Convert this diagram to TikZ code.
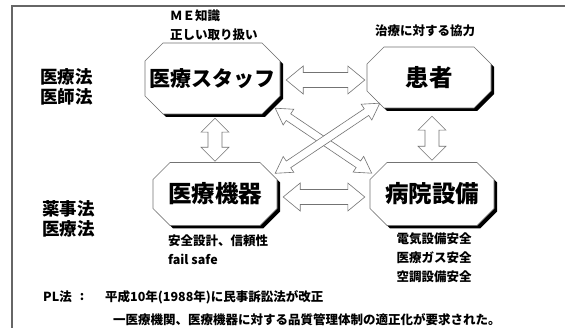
\documentclass[tikz,border=0pt]{standalone}
\usepackage{fontspec}
\setmainfont{Noto Sans CJK JP}
\usetikzlibrary{calc}

\newcommand\octbox[7]{%
 \begin{scope}[shift={(#2,#3)}]
  \fill[octshadow, shift={(3,3)}] ({-#4/2+#6},{-#5/2}) -- ({#4/2-#6},{-#5/2}) -- ({#4/2},{-#5/2+#6}) -- ({#4/2},{#5/2-#6}) -- ({#4/2-#6},{#5/2}) -- ({-#4/2+#6},{#5/2}) -- ({-#4/2},{#5/2-#6}) -- ({-#4/2},{-#5/2+#6}) -- cycle;
  \filldraw[octline] ({-#4/2+#6},{-#5/2}) -- ({#4/2-#6},{-#5/2}) -- ({#4/2},{-#5/2+#6}) -- ({#4/2},{#5/2-#6}) -- ({#4/2-#6},{#5/2}) -- ({-#4/2+#6},{#5/2}) -- ({-#4/2},{#5/2-#6}) -- ({-#4/2},{-#5/2+#6}) -- cycle;
 \end{scope}
 \node[boxlabel, minimum width=#4pt, minimum height=#5pt] (#1) at (#2,#3) {#7};
}

% from, to, shaft half width, head half width, head length
\newcommand\dblarrow[5]{%
 \draw[blockarrow] let \p1=(#1), \p2=(#2), \n1={atan2(\y2-\y1,\x2-\x1)}, \n2={veclen(\x2-\x1,\y2-\y1)} in
  [shift={(\p1)}, rotate=\n1] (0,0) -- (#5,#4) -- (#5,#3) -- ({\n2-#5},#3) -- ({\n2-#5},#4) -- (\n2,0) -- ({\n2-#5},-#4) -- ({\n2-#5},-#3) -- (#5,-#3) -- (#5,-#4) -- cycle;
}

\begin{document}
\begin{tikzpicture}[x=1pt,y=-1pt,
  octline/.style={draw=black!55, line width=0.6pt, fill=white},
  octshadow/.style={fill=black},
  boxlabel/.style={inner sep=0pt, font=\bfseries\fontsize{23.5}{26}\selectfont},
  lawlabel/.style={inner sep=0pt, align=left, font=\bfseries\fontsize{17.5}{20}\selectfont},
  note/.style={inner sep=0pt, font=\bfseries\fontsize{12.5}{19}\selectfont},
  blockarrow/.style={draw=black!55, line width=0.6pt, fill=white, line join=miter}]

\useasboundingbox (0,0) rectangle (565,328);
\fill[white] (0,0) rectangle (565,328);
\clip (0,0) rectangle (565,328);
\draw[black!60, line width=1.2pt] (12,6) rectangle (585,345);

% boxes
\octbox{staff}{212.5}{78.5}{135}{71}{18}{{\fontsize{21}{24}\selectfont 医療スタッフ}}
\octbox{patient}{429}{77.5}{124}{61}{17}{患者}
\octbox{device}{215}{194}{124}{63}{17}{医療機器}
\octbox{facility}{432}{194}{124}{63}{17}{病院設備}

% arrows
\dblarrow{$(staff.east)+(6,1.5)$}{$(patient.west)+(-2,2.5)$}{7.5}{14}{17}
\dblarrow{$(staff.south)+(2.5,4)$}{$(device.north)+(0,-1)$}{7}{14}{14}
\dblarrow{$(patient.south)+(3,8)$}{$(facility.north)+(0,-2)$}{7}{14}{14}
\dblarrow{$(device.east)+(6,3)$}{$(facility.west)+(-5,3)$}{7.5}{14}{17}
\dblarrow{$(staff.south east)+(-5,-6)$}{$(facility.north west)+(2,11)$}{4}{9.5}{16}
\dblarrow{$(patient.south west)+(13,-5)$}{$(device.north east)+(-2,11)$}{4}{9.5}{16}

% law labels
\node[lawlabel, anchor=west] (lawA) at (40,87) {医療法\\医師法};
\node[lawlabel, anchor=west] (lawB) at (42,219) {薬事法\\医療法};

% notes
\node[note, anchor=west, align=left] (noteStaff) at (170,25.5) {ＭＥ知識\\正しい取り扱い};
\node[note] (notePatient) at (425,31) {治療に対する協力};
\node[note, anchor=west, align=left] (noteDevice) at (168,250) {安全設計、信頼性\\fail safe};
\node[note, align=center] (noteFacility) at (434,258) {電気設備安全\\医療ガス安全\\空調設備安全};

% PL law
\node[note, anchor=west] (pl) at (43,297) {PL法};
\node[note] (colon) at (82,297) {:};
\node[note, anchor=west] (pl1) at (105,297) {平成10年(1988年)に民事訴訟法が改正};
\node[note, anchor=west] (pl2) at (113,320) {一医療機関、医療機器に対する品質管理体制の適正化が要求された。};
\end{tikzpicture}
\end{document}
